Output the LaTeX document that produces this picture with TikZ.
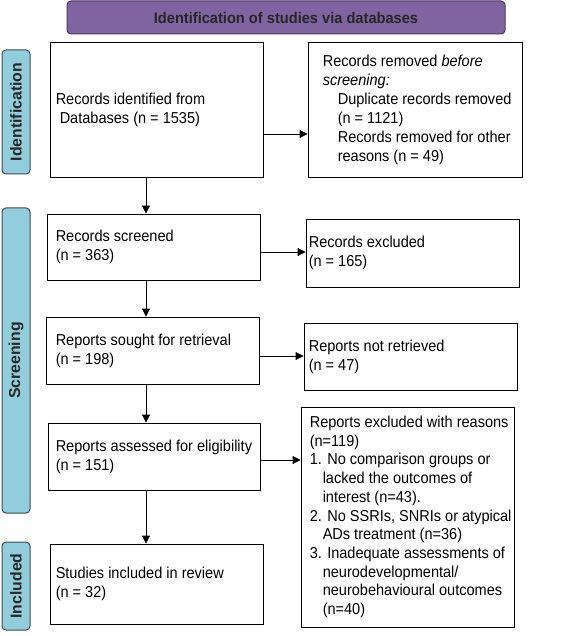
\documentclass[tikz,border=0pt]{standalone}
\usepackage{fontspec}
\setmainfont{Liberation Sans}
\newfontfamily\bodyfont[FakeStretch=0.92]{Liberation Sans}
\newfontfamily\titlefont[FakeStretch=0.95]{Liberation Sans}
\usetikzlibrary{arrows.meta,calc}
\definecolor{bannerfill}{HTML}{8064A2}
\definecolor{bannerdraw}{HTML}{4B3A63}
\definecolor{sidefill}{HTML}{92CDDC}
\definecolor{sidedraw}{HTML}{3C4A55}
\tikzset{
  box/.style={draw=black, line width=0.9pt, inner sep=0pt},
  txt/.style={anchor=west, align=left, inner sep=0pt, font=\bodyfont\fontsize{15.8}{19}\selectfont},
  banner/.style={draw=bannerdraw, fill=bannerfill, line width=1pt, rounded corners=4pt, inner sep=0pt,
    font=\titlefont\bfseries\fontsize{15.4}{17}\selectfont, text=black!85},
  side/.style={draw=sidedraw, fill=sidefill, line width=1pt, rounded corners=4pt, inner sep=0pt},
  sidetxt/.style={rotate=90, inner sep=0pt, font=\bfseries\fontsize{15.8}{18}\selectfont, text=black!85},
  arr/.style={draw=black, line width=0.9pt, -{Triangle[length=8pt,width=8pt]}}
}
\begin{document}
\begin{tikzpicture}[x=1pt,y=-1pt]
\useasboundingbox (0,0) rectangle (584,636);
% banner
\node[banner, minimum width=438pt, minimum height=33pt] (ban) at (286,17.5) {Identification of studies via databases};
% side labels
\node[side, minimum width=28pt, minimum height=124pt] (sid1) at (16,112) {};
\node[sidetxt] (sidt1) at (sid1.center) {Identification};
\node[side, minimum width=28pt, minimum height=305pt] (sid2) at (16,360.5) {};
\node[sidetxt] (sidt2) at (sid2.center) {Screening};
\node[side, minimum width=28pt, minimum height=88pt] (sid3) at (16,586) {};
\node[sidetxt] (sidt3) at (sid3.center) {Included};
% boxes
\node[box, minimum width=213pt, minimum height=135pt] (b1) at (156.5,109.5) {};
\node[txt] (t1) at ([xshift=6pt]b1.west) {Records identified from\\\hspace*{4pt}Databases (n = 1535)};
\node[box, minimum width=214pt, minimum height=135pt] (b2) at (415,109.5) {};
\node[txt] (t2) at ([xshift=15pt]b2.west) {Records removed \textit{before}\\\textit{screening:}\\\hspace*{15pt}Duplicate records removed\\\hspace*{15pt}(n = 1121)\\\hspace*{15pt}Records removed for other\\\hspace*{15pt}reasons (n = 49)};
\node[box, minimum width=213pt, minimum height=66pt] (b3) at (153.5,247) {};
\node[txt] (t3) at ([xshift=9pt]b3.west) {Records screened\\(n = 363)};
\node[box, minimum width=213pt, minimum height=68pt] (b4) at (412.5,253) {};
\node[txt] (t4) at ([xshift=3pt]b4.west) {Records excluded\\(n = 165)};
\node[box, minimum width=213pt, minimum height=67pt] (b5) at (152.5,350.5) {};
\node[txt] (t5) at ([xshift=10pt]b5.west) {Reports sought for retrieval\\(n = 198)};
\node[box, minimum width=213pt, minimum height=67pt] (b6) at (410.5,356.5) {};
\node[txt] (t6) at ([xshift=5pt]b6.west) {Reports not retrieved\\(n = 47)};
\node[box, minimum width=212pt, minimum height=67pt] (b7) at (154,456.5) {};
\node[txt] (t7) at ([xshift=8pt]b7.west) {Reports assessed for eligibility\\(n = 151)};
\node[box, minimum width=213pt, minimum height=220pt] (b8) at (407.5,517) {};
\node[txt, font=\bodyfont\fontsize{15.8}{18.7}\selectfont] (t8) at ([xshift=9pt]b8.west) {Reports excluded with reasons\\(n=119)\\1. No comparison groups or\\\hspace*{13pt}lacked the outcomes of\\\hspace*{13pt}interest (n=43).\\2. No SSRIs, SNRIs or atypical\\\hspace*{13pt}ADs treatment (n=36)\\3. Inadequate assessments of\\\hspace*{13pt}neurodevelopmental/\\\hspace*{13pt}neurobehavioural outcomes\\\hspace*{13pt}(n=40)};
\node[box, minimum width=213pt, minimum height=80pt] (b9) at (156.5,584) {};
\node[txt] (t9) at ([xshift=6pt]b9.west) {Studies included in review\\(n = 32)};
% connectors
\coordinate (ax) at (146,0);
\draw[arr] (b1.south -| ax) -- (b3.north -| ax);
\draw[arr] (b3.south -| ax) -- (b5.north -| ax);
\draw[arr] (b5.south -| ax) -- (b7.north -| ax);
\draw[arr] (b7.south -| ax) -- (b9.north -| ax);
\draw[arr] ([yshift=-24.5pt]b1.east) -- ([yshift=-24.5pt]b1.east -| b2.west);
\draw[arr] ([yshift=-5pt]b3.east) -- ([yshift=-5pt]b3.east -| b4.west);
\draw[arr] ([yshift=-5.5pt]b5.east) -- ([yshift=-5.5pt]b5.east -| b6.west);
\draw[arr] ([yshift=-3.5pt]b7.east) -- ([yshift=-3.5pt]b7.east -| b8.west);
\end{tikzpicture}
\end{document}
